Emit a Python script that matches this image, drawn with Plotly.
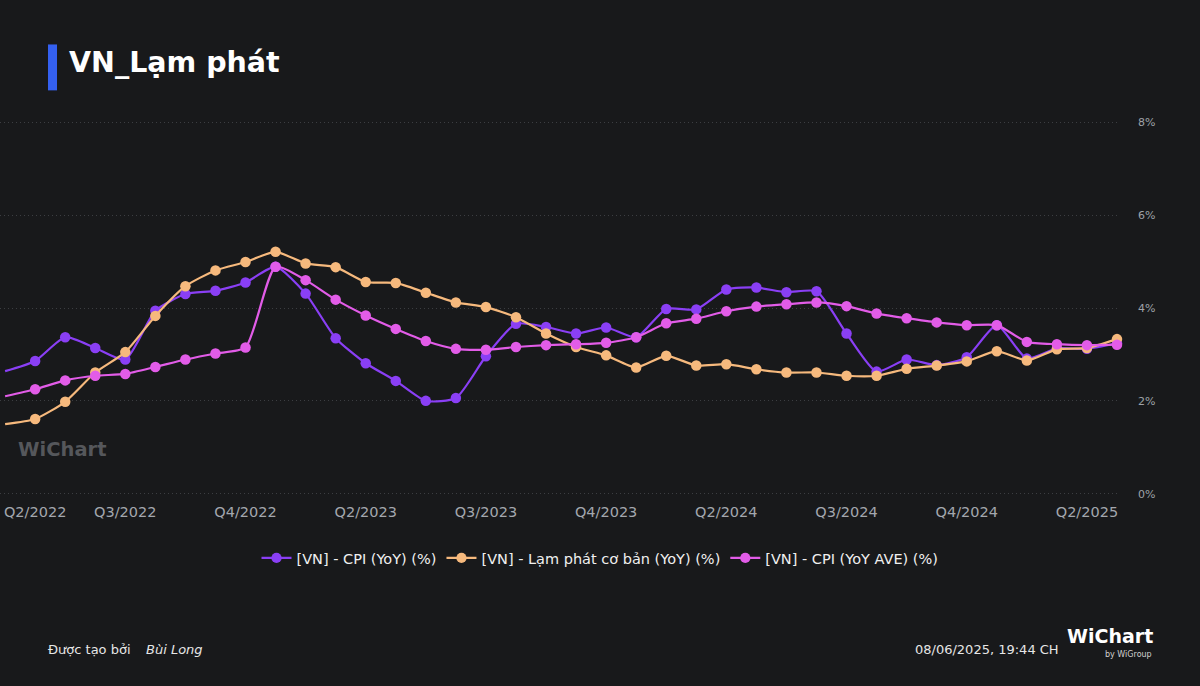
import plotly.graph_objects as go

months = ["04/2022", "05/2022", "06/2022", "07/2022", "08/2022", "09/2022", "10/2022", "11/2022", "12/2022",
          "01/2023", "02/2023", "03/2023", "04/2023", "05/2023", "06/2023", "07/2023", "08/2023", "09/2023",
          "10/2023", "11/2023", "12/2023", "01/2024", "02/2024", "03/2024", "04/2024", "05/2024", "06/2024",
          "07/2024", "08/2024", "09/2024", "10/2024", "11/2024", "12/2024", "01/2025", "02/2025", "03/2025",
          "04/2025", "05/2025"]

cpi_yoy = [2.64, 2.86, 3.37, 3.14, 2.89, 3.94, 4.30, 4.37, 4.55, 4.89, 4.31, 3.35, 2.81, 2.43, 2.00, 2.06,
           2.96, 3.66, 3.59, 3.45, 3.58, 3.37, 3.98, 3.97, 4.40, 4.44, 4.34, 4.36, 3.45, 2.63, 2.89, 2.77,
           2.94, 3.63, 2.91, 3.13, 3.12, 3.24]

core_yoy = [1.50, 1.61, 1.98, 2.61, 3.05, 3.83, 4.47, 4.81, 4.99, 5.21, 4.96, 4.88, 4.56, 4.54, 4.33, 4.12,
            4.02, 3.80, 3.45, 3.16, 2.98, 2.72, 2.97, 2.76, 2.79, 2.68, 2.61, 2.61, 2.54, 2.54, 2.69, 2.76,
            2.85, 3.07, 2.87, 3.11, 3.14, 3.33]

cpi_ave = [2.10, 2.25, 2.44, 2.54, 2.58, 2.73, 2.89, 3.02, 3.15, 4.89, 4.60, 4.18, 3.84, 3.55, 3.29, 3.12,
           3.10, 3.16, 3.20, 3.22, 3.25, 3.37, 3.67, 3.77, 3.93, 4.03, 4.08, 4.12, 4.04, 3.88, 3.78, 3.69,
           3.63, 3.63, 3.27, 3.22, 3.20, 3.21]

tick_months = ["05/2022", "08/2022", "12/2022", "04/2023", "08/2023", "12/2023", "04/2024", "08/2024",
               "12/2024", "04/2025"]
tick_labels = ["Q2/2022", "Q3/2022", "Q4/2022", "Q2/2023", "Q3/2023", "Q4/2023", "Q2/2024", "Q3/2024",
               "Q4/2024", "Q2/2025"]

y_ticks = [0, 2, 4, 6, 8]
y_labels = ["0%", "2%", "4%", "6%", "8%"]

series = [
    ("[VN] - CPI (YoY) (%)", cpi_yoy, "#8a3ff5"),
    ("[VN] - Lạm phát cơ bản (YoY) (%)", core_yoy, "#f6b97d"),
    ("[VN] - CPI (YoY AVE) (%)", cpi_ave, "#e25ce8"),
]

W, H = 1200, 686
PLOT_W = 1120
PAD = 0.05
PX_PER_UNIT = 46.5
PLOT_TOP = 122 - PAD * PX_PER_UNIT
PLOT_BOT = 494 + PAD * PX_PER_UNIT
PLOT_H = PLOT_BOT - PLOT_TOP


def px(xp):
    return xp / PLOT_W


def py(yp):
    return (PLOT_BOT - yp) / PLOT_H


BG = "#18191b"
fig = go.Figure()
for name, vals, col in series:
    sizes = [0] + [10.5] * (len(vals) - 1)
    fig.add_trace(go.Scatter(
        x=months, y=vals, name=name, mode="lines+markers",
        line=dict(color=col, width=2.2, shape="spline", smoothing=0.6),
        marker=dict(color=col, size=sizes, opacity=1, line=dict(width=0)),
        cliponaxis=False,
    ))

fig.update_layout(
    width=W, height=H,
    paper_bgcolor=BG, plot_bgcolor=BG,
    margin=dict(l=0, r=W - PLOT_W, t=PLOT_TOP, b=H - PLOT_BOT),
    font=dict(family="DejaVu Sans", color="#e6e6e6"),
    showlegend=True,
    legend=dict(orientation="h", xref="container", yref="container", x=0.5, xanchor="center",
                y=(H - 558) / H, yanchor="middle",
                font=dict(size=14.5, color="#f0f0f0"), bgcolor="rgba(0,0,0,0)"),
    xaxis=dict(type="category", categoryorder="array", categoryarray=months,
               range=[-0.17, 37.1], showgrid=False, zeroline=False, showline=False,
               tickmode="array", tickvals=tick_months, ticktext=tick_labels,
               tickfont=dict(size=14.5, color="#a3a7ae"), ticks="", ticklabelstandoff=5),
    yaxis=dict(side="right", range=[-PAD, 8 + PAD], tickmode="array", tickvals=y_ticks, ticktext=y_labels,
               showgrid=True, gridcolor="#3c3e42", griddash="1px,3px", gridwidth=1, zeroline=False,
               showline=False, tickfont=dict(size=11, color="#9ea2a8"), ticks="",
               ticklabelstandoff=17),
)

# title bar and title
fig.add_shape(type="rect", xref="paper", yref="paper", x0=px(48), x1=px(57),
              y0=py(90), y1=py(44), fillcolor="#3460f0", line=dict(width=0))
fig.add_annotation(xref="paper", yref="paper", x=px(67), y=py(62), xanchor="left",
                   yanchor="middle", text="<b>VN_Lạm phát</b>", showarrow=False,
                   font=dict(size=28.5, color="#ffffff", family="DejaVu Sans"))

# watermark
fig.add_annotation(xref="paper", yref="paper", x=px(16), y=py(450), xanchor="left",
                   yanchor="middle", text="<b>WiChart</b>", showarrow=False,
                   font=dict(size=19.5, color="#55575b", family="DejaVu Sans"))

# footer
fig.add_annotation(xref="paper", yref="paper", x=px(46), y=py(650), xanchor="left",
                   yanchor="middle", text="Được tạo bởi", showarrow=False,
                   font=dict(size=13, color="#e6e6e6"))
fig.add_annotation(xref="paper", yref="paper", x=px(144), y=py(650), xanchor="left",
                   yanchor="middle", text="<i>Bùi Long</i>", showarrow=False,
                   font=dict(size=13, color="#e6e6e6"))
fig.add_annotation(xref="paper", yref="paper", x=px(1061), y=py(650), xanchor="right",
                   yanchor="middle", text="08/06/2025, 19:44 CH", showarrow=False,
                   font=dict(size=13, color="#e6e6e6"))
fig.add_annotation(xref="paper", yref="paper", x=px(1065), y=py(637), xanchor="left",
                   yanchor="middle", text="<b>WiChart</b>", showarrow=False,
                   font=dict(size=19, color="#ffffff"))
fig.add_annotation(xref="paper", yref="paper", x=px(1154), y=py(655), xanchor="right",
                   yanchor="middle", text="by WiGroup", showarrow=False,
                   font=dict(size=8, color="#d0d0d0"))

fig.write_html("out.html")
